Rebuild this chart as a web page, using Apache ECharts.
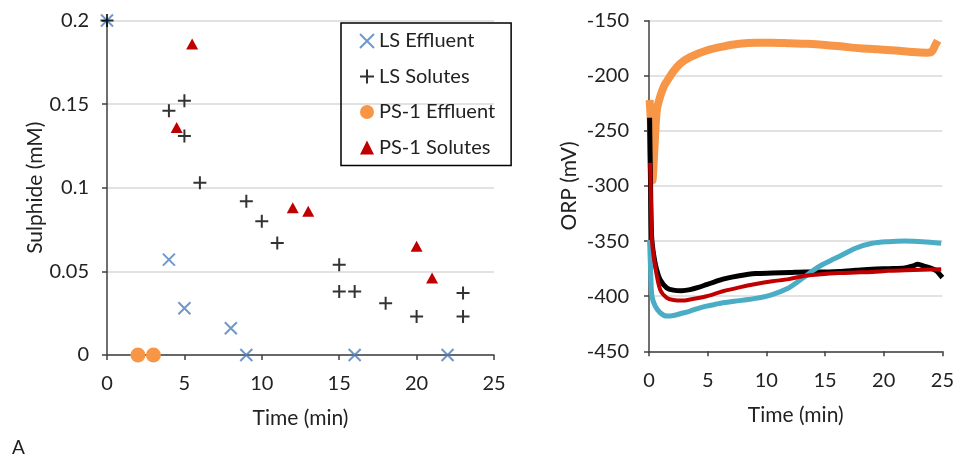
<!DOCTYPE html>
<html>
<head>
<meta charset="utf-8">
<script src="https://cdn.jsdelivr.net/npm/echarts@6/dist/echarts.min.js"></script>
<style>
  html, body { margin: 0; padding: 0; background: #fff; }
  #chart { width: 957px; height: 457px; }
</style>
</head>
<body>
<div id="chart"></div>
<script>
// Left panel: sulphide samples, [time (min), sulphide (mM)]
const lsEffluent = [[0, 0.2], [4, 0.057], [5, 0.028], [8, 0.016], [9, 0], [16, 0], [22, 0]];
const lsSolutes = [[0, 0.2], [4, 0.146], [5, 0.152], [5, 0.131], [6, 0.103], [9, 0.092], [10, 0.080],
    [11, 0.067], [15, 0.054], [15, 0.038], [16, 0.038], [18, 0.031], [20, 0.023], [23, 0.037], [23, 0.023]];
const ps1Effluent = [[2, 0], [3, 0]];
const ps1Solutes = [[5.5, 0.186], [4.5, 0.136], [12, 0.088], [13, 0.086], [20, 0.065], [21, 0.046]];

// Right panel: ORP traces, [time (min), ORP (mV)]
const orpOrange = [[0.05, -222], [0.15, -240], [0.3, -295], [0.45, -268], [0.67, -231], [0.95, -219],
    [1.25, -210], [1.52, -205], [2.08, -196], [2.65, -189], [3.5, -183], [4.9, -177], [6.3, -173.5],
    [7.7, -171], [9.1, -170], [10.5, -170], [12, -170.5], [13.5, -171], [15, -172], [16.5, -173.5],
    [18, -175], [19.5, -176], [21, -177], [22.5, -178.5], [23.7, -179], [24.1, -178], [24.4, -172], [24.6, -168]];
const orpBlack = [[0.05, -238], [0.12, -290], [0.22, -345], [0.39, -362], [0.65, -376], [0.95, -385],
    [1.52, -392.5], [2.08, -394.5], [2.8, -395], [3.5, -394], [4.2, -392], [4.9, -389.5], [5.6, -387],
    [6.3, -384.5], [7.7, -381.5], [9.1, -379.5], [10.5, -379], [12, -378.5], [13.3, -378], [14.7, -378],
    [16.2, -377.5], [17.6, -376.5], [19, -375.5], [20.4, -375], [21.8, -374.5], [22.5, -372.5], [22.9, -371],
    [23.5, -373], [24, -374.5], [24.5, -377], [24.75, -380], [25, -383]];
const orpBlue = [[0.05, -349], [0.15, -380], [0.25, -400], [0.53, -409], [0.95, -415], [1.52, -418],
    [2.08, -417.5], [2.8, -415.5], [3.5, -413.5], [4.2, -411], [4.9, -409], [5.6, -407.5], [6.3, -406],
    [7.7, -404], [9.1, -402], [10.5, -398.5], [11.9, -392.5], [12.6, -387.5], [13.3, -382], [14, -376.5],
    [14.75, -371.5], [15.5, -367.5], [16.2, -364], [17.6, -356.5], [19, -352], [20.4, -350.5], [21.8, -350],
    [23.3, -350.5], [24.9, -352]];
const orpRed = [[0.1, -279], [0.18, -320], [0.25, -349], [0.53, -373], [0.95, -394], [1.52, -401.5],
    [2.08, -403.5], [2.8, -404], [3.5, -403], [4.9, -400], [6.3, -395.5], [7.7, -392], [9.1, -389],
    [10.5, -386.5], [11.9, -384.5], [13.3, -381.5], [14.7, -380], [16.2, -379], [17.6, -378.5], [19, -378],
    [20.4, -377], [21.8, -376.5], [23.3, -376], [24.9, -375.5]];

const fontFamily = "Lato, 'Open Sans', sans-serif";
const textColor = "#222";
const axisColor = "#404040";
const gridColor = "#d9d9d9";
const colorBlueX = "#4a7ebb";
const colorOrange = "#f79646";
const colorRed = "#c00000";
const colorCyan = "#4bacc6";

const crossPath = "path://M0,0L10,10M10,0L0,10";
const plusPath = "path://M5,0L5,10M0,5L10,5";

function valueAxis(gridIndex, min, max, interval, name, nameGap) {
    return {
        type: "value",
        gridIndex: gridIndex,
        min: min,
        max: max,
        interval: interval,
        name: name,
        nameLocation: "middle",
        nameGap: nameGap,
        nameTextStyle: { color: textColor, fontSize: 21, fontFamily: fontFamily },
        axisLine: { show: true, onZero: false, lineStyle: { color: axisColor, width: 1.5 } },
        axisTick: { show: true, length: 5, lineStyle: { color: axisColor, width: 1.5 } },
        axisLabel: { color: textColor, fontSize: 20, fontFamily: fontFamily, margin: 19 },
        splitLine: { show: false }
    };
}

const chart = echarts.init(document.getElementById("chart"));

const xLeft = valueAxis(0, 0, 25, 5, "Time (min)", 53);
const yLeft = valueAxis(0, 0, 0.2, 0.05, "Sulphide (mM)", 45);
yLeft.splitLine = { show: true, lineStyle: { color: gridColor, width: 1.5 } };
yLeft.axisLabel.margin = 18;
const xRight = valueAxis(1, 0, 25, 5, "Time (min)", 53);
const yRight = valueAxis(1, -450, -150, 50, "ORP (mV)", 69);
yRight.splitLine = { show: true, lineStyle: { color: gridColor, width: 1.5 } };
yRight.axisLabel.margin = 20;

function orpSeries(data, color, width) {
    return {
        type: "line",
        xAxisIndex: 1,
        yAxisIndex: 1,
        data: data,
        showSymbol: false,
        smooth: 0.3,
        lineStyle: { color: color, width: width, join: "round" },
        silent: true
    };
}

chart.setOption({
    animation: false,
    textStyle: { fontFamily: fontFamily },
    title: {
        text: "A",
        left: 7,
        top: 433,
        textStyle: { color: textColor, fontSize: 19, fontWeight: "normal", fontFamily: fontFamily }
    },
    grid: [
        { left: 107, top: 20.5, width: 387, height: 334.5 },
        { left: 649, top: 20.7, width: 296, height: 330.6 }
    ],
    xAxis: [xLeft, xRight],
    yAxis: [yLeft, yRight],
    legend: {
        orient: "vertical",
        left: 341,
        top: 23,
        padding: [8, 16, 8, 18],
        itemGap: 15.5,
        itemWidth: 14,
        itemHeight: 14,
        borderColor: "#000",
        borderWidth: 1.5,
        textStyle: { color: textColor, fontSize: 20, fontFamily: fontFamily, lineHeight: 20 },
        data: [
            { name: "LS Effluent", icon: crossPath, itemStyle: { color: colorBlueX, borderColor: colorBlueX, borderWidth: 2 } },
            { name: "LS Solutes", icon: plusPath, itemStyle: { color: "#000", borderColor: "#000", borderWidth: 2 } },
            { name: "PS-1 Effluent", icon: "circle", itemStyle: { color: colorOrange } },
            { name: "PS-1 Solutes", icon: "triangle", itemStyle: { color: colorRed } }
        ]
    },
    series: [
        {
            name: "LS Effluent",
            type: "scatter",
            data: lsEffluent,
            symbol: crossPath,
            symbolSize: 12,
            itemStyle: { color: colorBlueX, borderColor: colorBlueX, borderWidth: 2 },
            z: 3
        },
        {
            name: "LS Solutes",
            type: "scatter",
            data: lsSolutes,
            symbol: plusPath,
            symbolSize: 13,
            itemStyle: { color: "#000", borderColor: "#000", borderWidth: 2 },
            z: 4
        },
        {
            name: "PS-1 Effluent",
            type: "scatter",
            data: ps1Effluent,
            symbol: "circle",
            symbolSize: 15,
            itemStyle: { color: colorOrange, opacity: 1 }
        },
        {
            name: "PS-1 Solutes",
            type: "scatter",
            data: ps1Solutes,
            symbol: "triangle",
            symbolSize: [12, 11],
            itemStyle: { color: colorRed, opacity: 1 }
        },
        orpSeries(orpOrange, colorOrange, 8),
        orpSeries(orpBlack, "#000", 5),
        orpSeries(orpBlue, colorCyan, 5),
        orpSeries(orpRed, colorRed, 4)
    ]
});
</script>
</body>
</html>
